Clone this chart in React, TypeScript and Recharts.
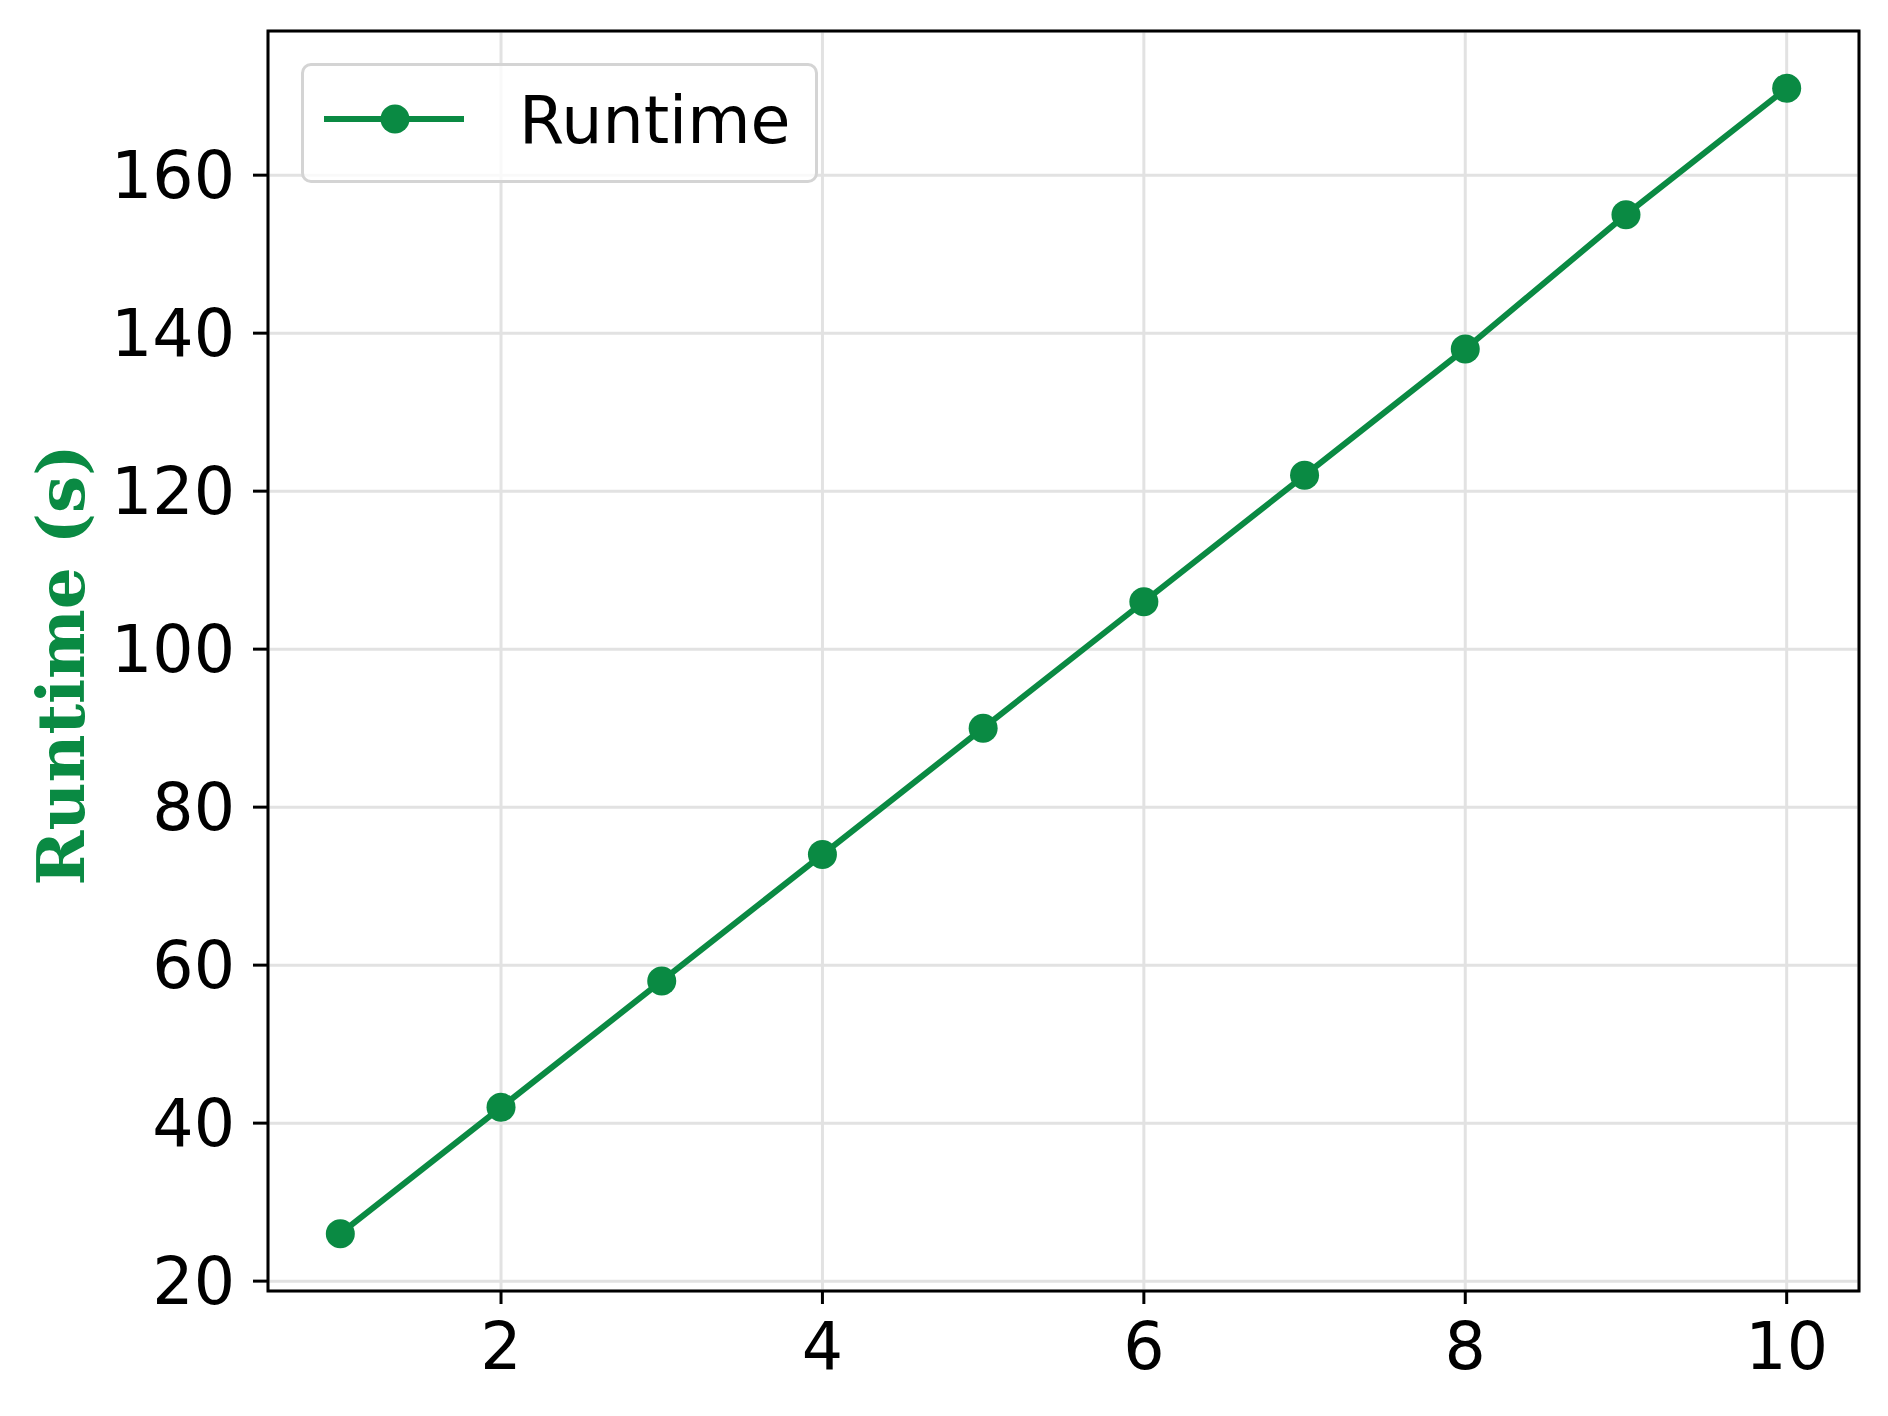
import {
  LineChart,
  Line,
  CartesianGrid,
  XAxis,
  YAxis,
  Legend,
  ReferenceArea,
} from 'recharts';

const steps = [1, 2, 3, 4, 5, 6, 7, 8, 9, 10];
const runtime = [26, 42, 58, 74, 90, 106, 122, 138, 155, 171];
const xTicks = [2, 4, 6, 8, 10];
const yTicks = [20, 40, 60, 80, 100, 120, 140, 160];
const seriesName = 'Runtime';
const yLabel = 'Runtime (s)';

const GREEN = '#0a8a43';
const X_DOMAIN: [number, number] = [0.55, 10.45];
const Y_DOMAIN: [number, number] = [18.75, 178.25];
const FONT = '"DejaVu Sans", sans-serif';

const data = steps.map((step, i) => ({ step, runtime: runtime[i] }));

function LegendBox(props: any) {
  const item = props.payload?.[0];
  const color = item?.color || GREEN;
  return (
    <div
      style={{
        width: 517,
        height: 120,
        boxSizing: 'border-box',
        border: '3px solid #d4d4d4',
        borderRadius: 10,
        background: 'rgba(255,255,255,0.8)',
      }}
    >
      <svg width={511} height={114} style={{ display: 'block' }}>
        <line x1={20} x2={160} y1={53} y2={53} stroke={color} strokeWidth={6} />
        <circle cx={91} cy={53} r={14.5} fill={color} />
        <text x={215} y={77} fontSize={65} fontFamily={FONT} fill="#000">
          {item?.value ?? seriesName}
        </text>
      </svg>
    </div>
  );
}

function YLabel(props: any) {
  const vb = props.viewBox || {};
  const cx = (vb.x ?? 0) + 61;
  const cy = (vb.y ?? 0) + (vb.height ?? 0) / 2 + 4;
  return (
    <text
      x={cx}
      y={cy}
      transform={`rotate(-90, ${cx}, ${cy})`}
      textAnchor="middle"
      dominantBaseline="central"
      fontSize={66}
      fontWeight="bold"
      fontFamily='"DejaVu Serif", serif'
      fill={GREEN}
    >
      {yLabel}
    </text>
  );
}

export default function App() {
  return (
    <div style={{ position: 'absolute', left: 0, top: 0, width: 1888, height: 1416, background: '#fff' }}>
      <LineChart
        width={1888}
        height={1416}
        data={data}
        margin={{ top: 31, right: 29, left: 0, bottom: 25 }}
      >
        <CartesianGrid stroke="#e2e2e2" strokeWidth={3} />
        <XAxis
          dataKey="step"
          type="number"
          domain={X_DOMAIN}
          ticks={xTicks}
          allowDataOverflow
          height={100}
          axisLine={false}
          tickSize={13}
          tickMargin={19}
          tickLine={{ stroke: '#000', strokeWidth: 3 }}
          tick={{ fill: '#000', fontSize: 65, fontFamily: FONT }}
        />
        <YAxis
          type="number"
          domain={Y_DOMAIN}
          ticks={yTicks}
          allowDataOverflow
          width={268}
          axisLine={false}
          tickSize={15}
          tickMargin={18}
          tickLine={{ stroke: '#000', strokeWidth: 3 }}
          tick={{ fill: '#000', fontSize: 65, fontFamily: FONT }}
          label={<YLabel />}
        />
        <ReferenceArea
          x1={X_DOMAIN[0]}
          x2={X_DOMAIN[1]}
          y1={Y_DOMAIN[0]}
          y2={Y_DOMAIN[1]}
          fill="none"
          stroke="#000"
          strokeWidth={3}
          ifOverflow="visible"
        />
        <Legend
          layout="horizontal"
          verticalAlign="middle"
          align="center"
          wrapperStyle={{ left: 301, top: 63, width: 517, height: 120 }}
          content={<LegendBox />}
        />
        <Line
          name={seriesName}
          dataKey="runtime"
          stroke={GREEN}
          strokeWidth={6}
          dot={{ r: 14.5, fill: GREEN, stroke: 'none' }}
          activeDot={false}
          isAnimationActive={false}
        />
      </LineChart>
    </div>
  );
}
